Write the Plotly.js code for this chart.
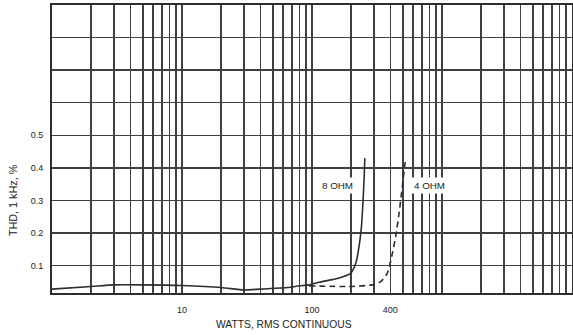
<!DOCTYPE html>
<html>
<head>
<meta charset="utf-8">
<script src="https://cdn.plot.ly/plotly-3.0.1.min.js"></script>
<style>html,body{margin:0;padding:0;background:#fff;}#chart{width:573px;height:335px;}</style>
</head>
<body>
<div id="chart"></div>
<script>
// THD vs output power, 8 ohm (solid) and 4 ohm (dashed)
const watts8 = [1, 2, 3, 5, 10, 20, 30, 40, 65, 80, 95, 114, 143, 162, 199, 217, 230, 240, 247, 252, 255];
const thd8   = [0.028, 0.036, 0.041, 0.041, 0.039, 0.033, 0.025, 0.028, 0.033, 0.038, 0.041, 0.049, 0.057, 0.062, 0.077, 0.107, 0.158, 0.219, 0.300, 0.372, 0.430];
const watts4 = [95, 193, 291, 338, 380, 410, 440, 467, 495, 519, 525];
const thd4   = [0.038, 0.036, 0.041, 0.051, 0.077, 0.128, 0.189, 0.260, 0.342, 0.413, 0.423];

const xGridVals = [1,2,3,4,5,6,7,8,9,10,20,30,40,50,60,70,80,90,100,200,300,400,500,600,700,800,900,1000,2000,3000,4000,5000,6000,7000,8000,9000,10000];
const xLabelMap = {10: '10', 100: '100', 400: '400'};
const xTickText = xGridVals.map(v => xLabelMap[v] || '');
const yGridVals = [0.1,0.2,0.3,0.4,0.5,0.6,0.7,0.8,0.9];
const yTickText = ['0.1','0.2','0.3','0.4','0.5','','','',''];
const seriesNames = ['8 OHM', '4 OHM'];

const ink = '#2e2e2e';
const traces = [
  {x: watts8, y: thd8, mode: 'lines', name: seriesNames[0], line: {color: ink, width: 1.6, shape: 'spline', smoothing: 0.6}},
  {x: watts4, y: thd4, mode: 'lines', name: seriesNames[1], line: {color: ink, width: 1.6, dash: '6px,4px', shape: 'spline', smoothing: 0.6}}
];

const layout = {
  width: 573, height: 335,
  margin: {l: 52, r: 1, t: 5, b: 42},
  paper_bgcolor: '#fff', plot_bgcolor: '#fff',
  showlegend: false,
  font: {family: 'Liberation Sans, Arial, sans-serif', size: 9, color: '#222'},
  xaxis: {
    type: 'log', range: [0, 4],
    tickmode: 'array', tickvals: xGridVals, ticktext: xTickText,
    ticks: '', ticklabelstandoff: 7,
    showgrid: true, gridcolor: '#404040', gridwidth: 1.4,
    showline: true, linecolor: ink, linewidth: 2, mirror: true,
    zeroline: false, fixedrange: true
  },
  yaxis: {
    range: [0.016, 0.9],
    tickmode: 'array', tickvals: yGridVals, ticktext: yTickText,
    ticks: '', ticklabelstandoff: 5,
    showgrid: true, gridcolor: '#404040', gridwidth: 1.4,
    showline: true, linecolor: ink, linewidth: 2, mirror: true,
    zeroline: false, fixedrange: true
  },
  annotations: [
    {xref: 'paper', yref: 'paper', x: (284-52)/521, y: -0.11, text: 'WATTS, RMS CONTINUOUS', showarrow: false,
     xanchor: 'center', yanchor: 'middle', font: {size: 10.3, color: '#222'}},
    {xref: 'paper', yref: 'paper', x: (13-52)/521, y: (293-200)/288, text: 'THD, 1 kHz, %', textangle: -90, showarrow: false,
     xanchor: 'center', yanchor: 'middle', font: {size: 10.8, color: '#222'}},
    {x: Math.log10(157), y: 0.345, text: seriesNames[0], showarrow: false, bgcolor: '#fff',
     font: {size: 9.8, color: '#222'}, borderpad: 2},
    {x: Math.log10(800), y: 0.345, text: seriesNames[1], showarrow: false, bgcolor: '#fff',
     font: {size: 9.8, color: '#222'}, borderpad: 2}
  ]
};

Plotly.newPlot('chart', traces, layout, {staticPlot: true, displayModeBar: false});
</script>
</body>
</html>
